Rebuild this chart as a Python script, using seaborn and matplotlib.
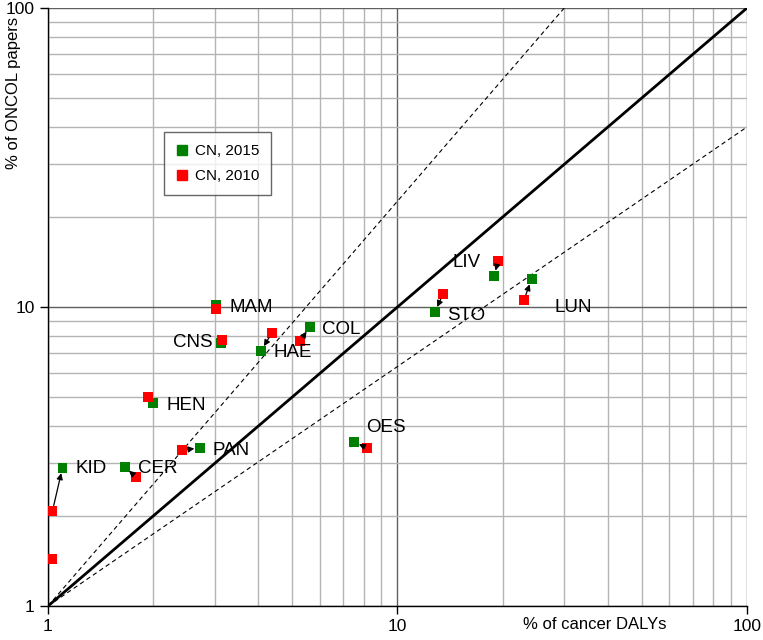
import pandas as pd
import matplotlib
matplotlib.use("Agg")
import matplotlib.pyplot as plt
import seaborn as sns
from matplotlib.ticker import LogLocator, FixedLocator, NullFormatter

# ---------------------------------------------------------
# DATA
# ---------------------------------------------------------

sites = ["KID", "CER", "HEN", "PAN", "MAM", "CNS", "HAE", "COL",
         "OES", "STO", "LIV", "LUN"]

dalys_2015 = [1.10, 1.66, 2.00, 2.72, 3.02, 3.12, 4.07, 5.61,
              7.50, 12.8, 18.9, 24.2]
papers_2015 = [2.90, 2.92, 4.78, 3.38, 10.2, 7.60, 7.13, 8.57,
               3.54, 9.62, 12.7, 12.4]

dalys_2010 = [1.03, 1.785, 1.93, 2.42, 3.02, 3.15, 4.37, 5.26,
              8.17, 13.5, 19.4, 23.0]
papers_2010 = [2.08, 2.70, 5.00, 3.32, 9.85, 7.76, 8.19, 7.69,
               3.38, 11.05, 14.25, 10.55]

# extra 2010 point with no label
extra_dalys_2010 = [1.03]
extra_papers_2010 = [1.44]

# sites that moved with an arrow from 2010 to 2015
arrow_sites = ["KID", "CER", "PAN", "HAE", "COL", "OES", "STO", "LIV", "LUN"]

# label positions
label_x = [1.195, 1.81, 2.19, 2.96, 3.31, 2.96, 4.42, 6.07,
           8.11, 13.87, 14.4, 28.2]
label_y = [2.89, 2.89, 4.70, 3.32, 10.0, 7.59, 7.06, 8.40,
           3.94, 9.40, 14.1, 10.0]

# ---------------------------------------------------------
# STYLE SETTINGS
# ---------------------------------------------------------

sns.set_style("white")
plt.rcParams["font.family"] = ["Liberation Sans", "DejaVu Sans"]
plt.rcParams["text.color"] = "black"
plt.rcParams["axes.labelcolor"] = "black"
plt.rcParams["xtick.color"] = "black"
plt.rcParams["ytick.color"] = "black"

df = pd.DataFrame({
    "dalys": dalys_2015 + dalys_2010 + extra_dalys_2010,
    "papers": papers_2015 + papers_2010 + extra_papers_2010,
    "year": ["CN, 2015"] * len(sites) + ["CN, 2010"] * (len(sites) + 1),
})

fig = plt.figure(figsize=(7.63, 6.40), dpi=100)
ax = fig.add_axes([0.0629, 0.0531, 0.9161, 0.9344])

ax.set_xscale("log")
ax.set_yscale("log")
ax.set_xlim(1, 100)
ax.set_ylim(1, 100)

# grid
ax.xaxis.set_minor_locator(LogLocator(base=10, subs=range(2, 10)))
ax.yaxis.set_minor_locator(LogLocator(base=10, subs=range(2, 10)))
ax.xaxis.set_minor_formatter(NullFormatter())
ax.yaxis.set_minor_formatter(NullFormatter())
ax.grid(which="minor", color="#b4b4b4", linewidth=1.0)
ax.grid(which="major", color="#606060", linewidth=1.0)
ax.set_axisbelow(True)

# reference lines
ax.plot([1, 100], [1, 100], color="black", linewidth=2, zorder=2)
ax.plot([1, 30], [1, 100], color="black", linewidth=0.8,
        linestyle=(0, (4, 3)), zorder=2)
ax.plot([1, 100], [1, 40], color="black", linewidth=0.8,
        linestyle=(0, (4, 3)), zorder=2)

# points
sns.scatterplot(
    data=df,
    x="dalys",
    y="papers",
    hue="year",
    palette={"CN, 2015": "#008000", "CN, 2010": "#ff0000"},
    marker="s",
    s=50,
    linewidth=0,
    ax=ax,
    zorder=3,
    legend=False,
)

# arrows 2010 -> 2015
for name in arrow_sites:
    i = sites.index(name)
    ax.annotate(
        "",
        xy=(dalys_2015[i], papers_2015[i]),
        xytext=(dalys_2010[i], papers_2010[i]),
        arrowprops=dict(arrowstyle="-|>", color="black", lw=0.9,
                        shrinkA=4, shrinkB=4, mutation_scale=9),
        zorder=4,
    )

# labels
for i, name in enumerate(sites):
    ha = "right" if name == "CNS" else "left"
    ax.text(label_x[i], label_y[i], name, fontsize=13.5,
            ha=ha, va="center", zorder=5)

# legend
handles = [
    plt.Line2D([], [], marker="s", color="#008000", linestyle="",
               markersize=7, label="CN, 2015"),
    plt.Line2D([], [], marker="s", color="#ff0000", linestyle="",
               markersize=7, label="CN, 2010"),
]
leg = ax.legend(
    handles=handles,
    loc="upper left",
    bbox_to_anchor=(0.155, 0.805),
    fontsize=11,
    frameon=True,
    fancybox=False,
    edgecolor="#404040",
    handlelength=0.8,
    handletextpad=0.4,
    labelspacing=0.7,
    borderpad=0.8,
)
leg.get_frame().set_linewidth(1.0)

# ticks
ax.xaxis.set_major_locator(FixedLocator([1, 10, 100]))
ax.yaxis.set_major_locator(FixedLocator([1, 10, 100]))
ax.set_xticklabels(["1", "10", "100"])
ax.set_yticklabels(["1", "10", "100"])
ax.tick_params(which="major", direction="out", length=6, width=1,
               labelsize=12.5, color="black", bottom=True, left=True)
ax.tick_params(which="minor", length=0)

for side in ["top", "right"]:
    ax.spines[side].set_visible(False)
for side in ["left", "bottom"]:
    ax.spines[side].set_color("black")
    ax.spines[side].set_linewidth(1.0)

ax.set_xlabel("% of cancer DALYs", fontsize=12, ha="right")
ax.xaxis.set_label_coords(0.885, -0.018)
ax.set_ylabel("% of ONCOL papers", fontsize=12, ha="right", va="center")
ax.yaxis.set_label_coords(-0.05, 0.985)

fig.savefig("out.png", dpi=100)
